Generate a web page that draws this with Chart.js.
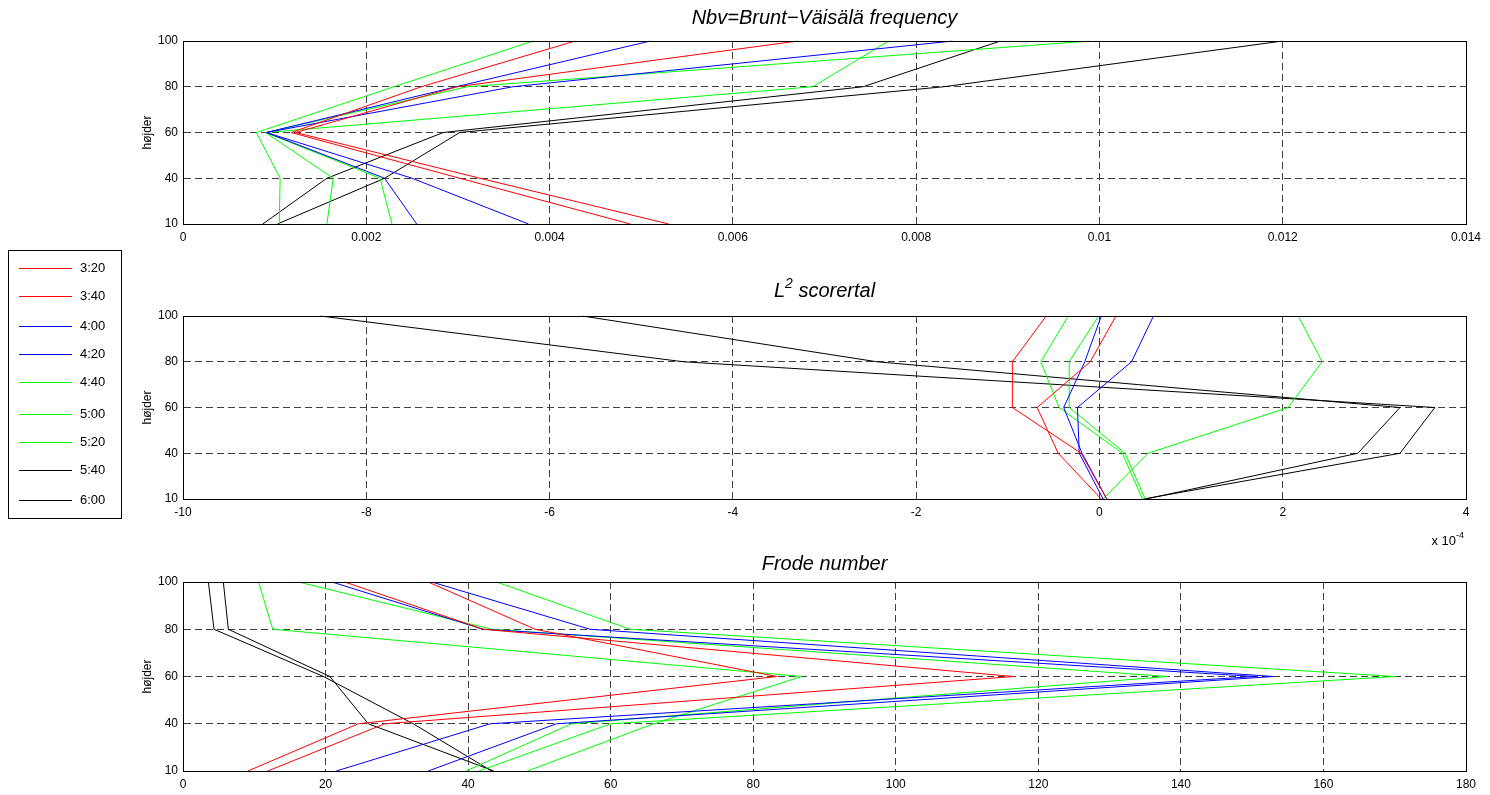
<!DOCTYPE html>
<html>
<head>
<meta charset="utf-8">
<script src="https://cdn.jsdelivr.net/npm/chart.js@4"></script>
<style>
  body { margin: 0; background: #fff; width: 1490px; height: 795px; overflow: hidden; }
  canvas { position: absolute; left: 0; }
</style>
</head>
<body>
<canvas id="nbv" width="1490" height="260" style="top:0px"></canvas>
<canvas id="l2" width="1490" height="300" style="top:245px"></canvas>
<canvas id="frode" width="1490" height="250" style="top:545px"></canvas>
<script>
const heights = ['10', '40', '60', '80', '100'];
const times = ['3:20', '3:40', '4:00', '4:20', '4:40', '5:00', '5:20', '5:40', '6:00'];
const timeColors = ['#ff0000', '#ff0000', '#0000ff', '#0000ff', '#00ff00', '#00ff00', '#00ff00', '#000000', '#000000'];

// one row per time, values at heights 10, 40, 60, 80, 100
const nbvValues = [
  [0.0053, 0.00324, 0.00123, 0.00299, 0.00671],   // 3:20
  [0.00488, 0.00302, 0.00118, 0.0026, 0.00428],   // 3:40
  [0.00255, 0.0022, 0.00091, 0.00298, 0.0051],    // 4:00
  [0.00377, 0.0025, 0.00091, 0.0036, 0.0084],     // 4:20
  [0.00105, 0.00106, 0.0008, 0.0023, 0.00382],    // 4:40
  [0.00157, 0.00164, 0.0009, 0.00687, 0.0077],    // 5:00
  [0.00228, 0.00215, 0.0009, 0.0031, 0.0099],     // 5:20
  [0.00087, 0.00157, 0.00284, 0.00742, 0.00892],  // 5:40
  [0.00103, 0.0022, 0.00302, 0.0083, 0.012]       // 6:00
];

// L^2 scorer parameter, in units of 1e-4
const l2Values = [
  [0.08, -0.2, -0.95, -0.95, -0.58],
  [0.02, -0.45, -0.68, -0.1, 0.18],
  [0.04, -0.22, -0.24, 0.35, 0.59],
  [0.08, -0.19, -0.39, -0.16, 0.02],
  [0.47, 0.25, -0.44, -0.64, -0.34],
  [0.5, 0.28, -0.33, -0.33, -0.01],
  [0.04, 0.53, 2.06, 2.43, 2.17],
  [0.48, 3.28, 3.66, -4.54, -8.5],
  [0.51, 2.82, 3.28, -2.43, -5.64]
];

const frodeValues = [
  [11.9, 28.3, 116.5, 42.1, 22.7],
  [9.1, 24.6, 83.3, 49.4, 34.4],
  [21.5, 43.1, 150.5, 42.1, 20.9],
  [34.4, 52.4, 153, 57.1, 34.9],
  [48.3, 66, 86.8, 12.6, 10.6],
  [39.7, 54.5, 138.2, 43.3, 16.2],
  [41.5, 60, 170.1, 62.7, 44],
  [43.3, 32.3, 19.7, 4.35, 3.56],
  [43.6, 26, 20.6, 6.36, 5.66]
];

const FONT = '"Liberation Sans", Arial, Helvetica, sans-serif';
Chart.defaults.font.family = FONT;
Chart.defaults.font.size = 12;
Chart.defaults.color = '#000';

// draws text pieces [text, size, raise] in a row, starting at x
function drawPieces(ctx, pieces, x, y, style) {
  pieces.forEach(([t, size, raise]) => {
    ctx.font = style + size + 'px ' + FONT;
    ctx.fillText(t, x, y - raise);
    x += ctx.measureText(t).width;
  });
}
function piecesWidth(ctx, pieces, style) {
  return pieces.reduce((w, [t, size]) => {
    ctx.font = style + size + 'px ' + FONT;
    return w + ctx.measureText(t).width;
  }, 0);
}

// matlab-like solid box around the axes, title centred over the plot area
const boxPlugin = {
  id: 'box',
  afterDatasetsDraw(chart, args, opts) {
    const { ctx, chartArea: a } = chart;
    ctx.save();
    ctx.strokeStyle = '#000';
    ctx.lineWidth = 1;
    ctx.setLineDash([]);
    ctx.strokeRect(Math.round(a.left) + 0.5, Math.round(a.top) + 0.5,
      Math.round(a.right - a.left), Math.round(a.bottom - a.top));
    ctx.fillStyle = '#000';
    ctx.textBaseline = 'alphabetic';
    const w = piecesWidth(ctx, opts.title, 'italic ');
    drawPieces(ctx, opts.title, (a.left + a.right) / 2 - w / 2, opts.titleBase, 'italic ');
    if (opts.exponent) {
      const ew = piecesWidth(ctx, opts.exponent, '');
      drawPieces(ctx, opts.exponent, a.right - 2 - ew, opts.exponentBase, '');
    }
    ctx.restore();
  }
};

// legend rows (canvas y) kept on even screen rows so the thin lines stay crisp
const legendRows = [23, 51, 81, 109, 137, 169, 197, 225, 255];

const legendBox = {
  id: 'legendBox',
  afterDraw(chart) {
    const ctx = chart.ctx;
    ctx.save();
    ctx.fillStyle = '#fff';
    ctx.fillRect(8, 5, 113, 268);
    ctx.strokeStyle = '#000';
    ctx.lineWidth = 1;
    ctx.setLineDash([]);
    ctx.strokeRect(8.5, 5.5, 113, 268);
    ctx.font = '13px ' + FONT;
    ctx.textBaseline = 'middle';
    times.forEach((t, i) => {
      const y = legendRows[i] + 0.5;
      ctx.strokeStyle = timeColors[i];
      ctx.beginPath();
      ctx.moveTo(19, y);
      ctx.lineTo(72, y);
      ctx.stroke();
      ctx.fillStyle = '#000';
      ctx.fillText(t, 80, y);
    });
    ctx.restore();
  }
};

function makePanel(id, p) {
  const canvas = document.getElementById(id);
  const H = canvas.height;
  return new Chart(canvas, {
    type: 'line',
    data: {
      labels: heights,
      datasets: p.values.map((row, i) => ({
        label: times[i],
        data: row,
        borderColor: timeColors[i],
        backgroundColor: timeColors[i],
        borderWidth: 1,
        pointRadius: 0,
        tension: 0,
        fill: false
      }))
    },
    options: {
      indexAxis: 'y',
      responsive: false,
      animation: false,
      events: [],
      layout: { padding: { left: 140, right: 24, top: p.plotTop, bottom: 0 } },
      plugins: {
        legend: { display: false },
        tooltip: { enabled: false },
        title: { display: false },
        box: {
          title: p.title, titleBase: p.titleY + 7,
          exponent: p.exponent, exponentBase: p.exponentBase
        }
      },
      scales: {
        x: {
          type: 'linear',
          min: p.xMin,
          max: p.xMax,
          afterFit: s => { s.height = H - p.plotBottom; },
          ticks: {
            stepSize: p.xStep,
            padding: 6,
            autoSkip: false,
            maxRotation: 0,
            callback: v => String(+v.toFixed(6))
          },
          grid: { color: '#404040', lineWidth: 1, drawTicks: false },
          border: { display: true, color: '#000', dash: [7, 4] }
        },
        y: {
          type: 'category',
          reverse: true,
          offset: false,
          afterFit: s => { s.width = 43; },
          ticks: { padding: 5, autoSkip: false },
          grid: { color: '#404040', lineWidth: 1, drawTicks: false, offset: false },
          border: { display: true, color: '#000', dash: [7, 4] },
          title: { display: true, text: 'højder', font: { size: 12 }, padding: 0 }
        }
      }
    },
    plugins: [boxPlugin].concat(p.extra || [])
  });
}

makePanel('nbv', {
  title: [['Nbv=Brunt\u2212Väisälä frequency', 20, 0]],
  values: nbvValues,
  xMin: 0, xMax: 0.014, xStep: 0.002,
  titleY: 17, plotTop: 41, plotBottom: 224
});

makePanel('l2', {
  title: [['L', 20, 0], ['2', 14, 9], [' scorertal', 20, 0]],
  values: l2Values,
  xMin: -10, xMax: 4, xStep: 2,
  exponent: [['x 10', 13, 0], ['-4', 9, 7]],
  exponentBase: 300,
  titleY: 45, plotTop: 71, plotBottom: 254,
  extra: [legendBox]
});

makePanel('frode', {
  title: [['Frode number', 20, 0]],
  values: frodeValues,
  xMin: 0, xMax: 180, xStep: 20,
  titleY: 18, plotTop: 37, plotBottom: 226
});
</script>
</body>
</html>
